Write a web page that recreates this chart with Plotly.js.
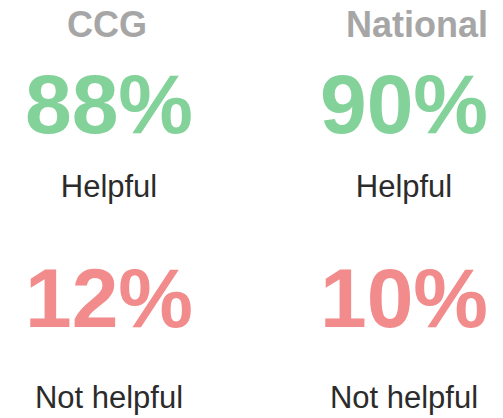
<!DOCTYPE html>
<html>
<head>
<meta charset="utf-8">
<script src="https://cdn.plot.ly/plotly-3.0.1.min.js"></script>
<style>html,body{margin:0;padding:0;background:#fff}#chart{width:503px;height:418px}</style>
</head>
<body>
<div id="chart"></div>
<script>
// ---- data ----
const groups = ["CCG", "National"];
const helpful = [88, 90];
const notHelpful = [12, 10];
const labelHelpful = "Helpful";
const labelNotHelpful = "Not helpful";

// ---- layout constants (pixel space) ----
const W = 503, H = 418;
const colX = [109, 404];
const headerX = [107, 417];
const FONT = "Liberation Sans, Arial, Helvetica, sans-serif";
const sizes = {header: 36, pct: 84, label: 31};
const baselines = {header: 37, pctHelp: 133, lblHelp: 197, pctNot: 327, lblNot: 408};
// plotly 'middle center' text: baseline = y + 0.25*fontSize
const yFor = (base, fs) => base - 0.25 * fs;

function textTrace(xs, base, fs, texts, color, bold) {
  return {
    type: "scatter", mode: "text",
    x: xs, y: xs.map(() => yFor(base, fs)),
    text: texts, textposition: "middle center",
    textfont: {family: FONT, size: fs, color: color, weight: bold ? 700 : 400},
    hoverinfo: "skip", showlegend: false, cliponaxis: false
  };
}

const traces = [
  textTrace(headerX, baselines.header, sizes.header, groups, "#a6a6a6", true),
  textTrace(colX, baselines.pctHelp, sizes.pct, helpful.map(v => v + "%"), "#82d29a", true),
  textTrace(colX, baselines.lblHelp, sizes.label, groups.map(() => labelHelpful), "#2b2b2b", false),
  textTrace(colX, baselines.pctNot, sizes.pct, notHelpful.map(v => v + "%"), "#f28b8b", true),
  textTrace(colX, baselines.lblNot, sizes.label, groups.map(() => labelNotHelpful), "#2b2b2b", false)
];

const layout = {
  width: W, height: H,
  margin: {l: 0, r: 0, t: 0, b: 0},
  paper_bgcolor: "#ffffff", plot_bgcolor: "#ffffff",
  xaxis: {range: [0, W], visible: false, fixedrange: true},
  yaxis: {range: [H, 0], visible: false, fixedrange: true},
  showlegend: false
};

Plotly.newPlot("chart", traces, layout, {displayModeBar: false, staticPlot: true});
</script>
</body>
</html>
